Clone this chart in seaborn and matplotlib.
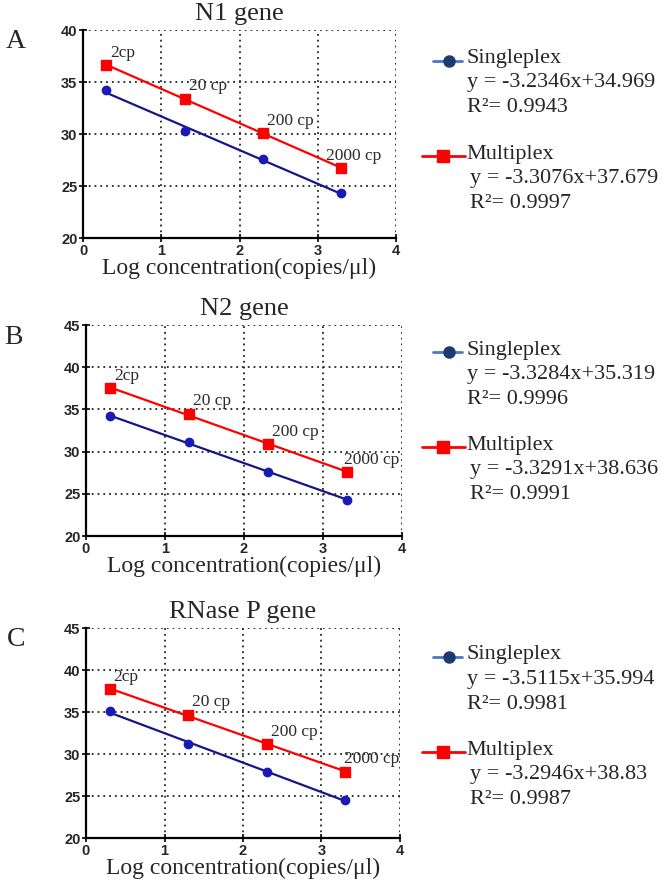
"""Standard curves - singleplex vs multiplex (N1, N2, RNase P)"""
import numpy as np
import matplotlib.pyplot as plt
from matplotlib.lines import Line2D
import seaborn as sns

# Data
log_conc = [0.3, 1.3, 2.3, 3.3]
copy_labels = ['2cp', '20 cp', '200 cp', '2000 cp']

genes = ['N1 gene', 'N2 gene', 'RNase P gene']
panel_letters = ['A', 'B', 'C']

single_ct = [[34.2, 30.3, 27.6, 24.3],
             [34.2, 31.1, 27.6, 24.3],
             [35.1, 31.2, 27.9, 24.5]]
multi_ct = [[36.6, 33.4, 30.1, 26.7],
            [37.5, 34.5, 30.9, 27.6],
            [37.7, 34.7, 31.2, 27.9]]

single_eq = ['y = -3.2346x+34.969', 'y = -3.3284x+35.319', 'y = -3.5115x+35.994']
single_r2 = ['R²= 0.9943', 'R²= 0.9996', 'R²= 0.9981']
multi_eq = ['y = -3.3076x+37.679', 'y = -3.3291x+38.636', 'y = -3.2946x+38.83']
multi_r2 = ['R²= 0.9997', 'R²= 0.9991', 'R²= 0.9987']

y_tops = [40, 45, 45]

# Style
sns.set_style('white')
plt.rcParams['font.family'] = ['Liberation Serif', 'DejaVu Serif']
SERIF = 'Liberation Serif'
TICKFONT = 'Liberation Sans'
RED = '#ff0000'
NAVY = '#16168a'
BLUE_DOT = '#1a1ab4'

W, H = 670, 888
fig = plt.figure(figsize=(W / 100, H / 100), dpi=100)

# axes boxes in pixels: left, top, right, bottom
boxes = [(83, 30, 396, 238), (86, 325, 402, 536), (86, 628, 400, 838)]
# legend top rows (pixels)
legend_rows = [59, 350, 655]
# annotation offsets in points (dx, dy) per panel / label
label_offsets = [[(3, 3), (3, 3), (3, 3), (-11, 3)],
                 [(3, 3), (3, 3), (3, 3), (-2, 3)],
                 [(3, 3), (3, 3), (3, 3), (-1, 3)]]
letter_pos = [(16, 41), (13, 337), (16, 639)]


def fx(px):
    return px / W


def fy(py):
    return 1 - py / H


for i in range(3):
    l, t, r, b = boxes[i]
    ax = fig.add_axes([fx(l), fy(b), (r - l) / W, (b - t) / H])

    sns.regplot(x=log_conc, y=single_ct[i], ax=ax, ci=None, marker='o',
                color=NAVY,
                scatter_kws={'s': 36, 'color': BLUE_DOT, 'alpha': 1, 'zorder': 4},
                line_kws={'lw': 1.6, 'zorder': 3})
    sns.regplot(x=log_conc, y=multi_ct[i], ax=ax, ci=None, marker='s',
                color=RED,
                scatter_kws={'s': 42, 'color': RED, 'alpha': 1, 'zorder': 4},
                line_kws={'lw': 1.6, 'zorder': 3})

    for j, lab in enumerate(copy_labels):
        ax.annotate(lab, (log_conc[j], multi_ct[i][j]), xytext=label_offsets[i][j],
                    textcoords='offset points', fontsize=12.5, color='#2a2a2a',
                    family=SERIF, ha='left', va='bottom')

    ax.set_xlim(0, 4)
    ax.set_ylim(20, y_tops[i])
    ax.set_xticks([0, 1, 2, 3, 4])
    ax.set_yticks(np.arange(20, y_tops[i] + 1, 5))
    ax.grid(True, color='#222222', linestyle=(0, (1, 2.2)), linewidth=1.3)
    ax.set_axisbelow(True)
    for s in ['top', 'right']:
        ax.spines[s].set_visible(False)
    for s in ['left', 'bottom']:
        ax.spines[s].set_color('black')
        ax.spines[s].set_linewidth(1.6)
    ax.tick_params(direction='inout', length=6, width=1.4, pad=1,
                   labelsize=10.5, bottom=True, left=True)
    for tl in ax.get_xticklabels() + ax.get_yticklabels():
        tl.set_fontfamily(TICKFONT)
        tl.set_fontweight('bold')

    ax.set_title(genes[i], fontsize=19, pad=7.5, family=SERIF)
    ax.set_xlabel('Log concentration(copies/μl)', fontsize=17, labelpad=0, family=SERIF)
    ax.set_ylabel('')

    fig.text(fx(letter_pos[i][0]), fy(letter_pos[i][1]), panel_letters[i],
             fontsize=20, family=SERIF, ha='center', va='center')

    # legend block on the right
    y0 = legend_rows[i]
    fig.add_artist(Line2D([fx(433), fx(462)], [fy(y0 + 2), fy(y0 + 2)],
                          color='#4a78c8', lw=2, transform=fig.transFigure))
    fig.add_artist(Line2D([fx(449)], [fy(y0 + 2)], marker='o', ms=8,
                          color='#1f3a72', transform=fig.transFigure))
    fig.text(fx(466), fy(y0), 'Singleplex', fontsize=16, va='center', family=SERIF)
    fig.text(fx(467), fy(y0 + 24), single_eq[i], fontsize=16, va='center', family=SERIF)
    fig.text(fx(467), fy(y0 + 49), single_r2[i], fontsize=16, va='center', family=SERIF)

    y1 = y0 + 95
    fig.add_artist(Line2D([fx(422), fx(465)], [fy(y1 + 2), fy(y1 + 2)],
                          color=RED, lw=2, transform=fig.transFigure))
    fig.add_artist(Line2D([fx(443)], [fy(y1 + 2)], marker='s', ms=9,
                          color=RED, transform=fig.transFigure))
    fig.text(fx(466), fy(y1), 'Multiplex', fontsize=16, va='center', family=SERIF)
    fig.text(fx(470), fy(y1 + 24), multi_eq[i], fontsize=16, va='center', family=SERIF)
    fig.text(fx(470), fy(y1 + 49), multi_r2[i], fontsize=16, va='center', family=SERIF)

plt.savefig('out.png', dpi=100)
